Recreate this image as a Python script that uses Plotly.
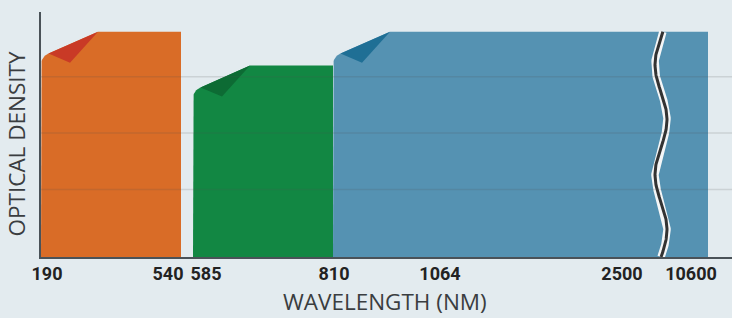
import numpy as np
import plotly.graph_objects as go

# ---------------- data ----------------
wavelength_ticks = [190, 540, 585, 810, 1064, 2500, 10600]
band_start = [190, 585, 810]
band_end = [540, 810, 10600]
band_od = [3.8, 3.2, 3.8]

# ---------------- styling / schematic (broken) axis ----------------
W, H = 732, 318
ML, MR, MT, MB = 41, 0, 12, 61
PW, PH = W - ML - MR, H - MT - MB
Y0, Y1 = -0.2, 4.15
PPU = PH / (Y1 - Y0)  # pixels per OD unit

# schematic position (px from plot left) of band edges on the broken axis
edge_pos = {190: 0, 540: 140, 585: 152, 810: 292, 10600: 667}
# schematic position of the tick labels (nudged apart where edges are close)
label_pos = {190: 6, 540: 127, 585: 165, 810: 293, 1064: 399, 2500: 581, 10600: 650}
break_pos = 620

body_colors = ["#d96c27", "#128743", "#5592b2"]
flap_colors = ["#c93a26", "#0d6b34", "#1f6f95"]
BG = "#e3ebef"
TITLE_FONT = dict(family="Open Sans", size=22.5, color="#3a3d40", weight=400)

fig = go.Figure()


def dy(px):
    return px / PPU


for i, (s, e, od) in enumerate(zip(band_start, band_end, band_od)):
    x0 = edge_pos[s]
    x1 = edge_pos[e]
    # rounded curled corner
    r = 12
    cx, cy = x0 + r, od - dy(33)
    ang = np.linspace(np.pi, np.deg2rad(112), 12)
    arc_x = list(cx + r * np.cos(ang))
    arc_y = list(cy + dy(r) * np.sin(ang))
    xs = [x0, x0] + arc_x + [x0 + 57, x1, x1, x0]
    ys = [Y0, od - dy(33)] + arc_y + [od, od, Y0, Y0]
    fig.add_trace(go.Scatter(x=xs, y=ys, fill="toself", fillcolor=body_colors[i],
                             mode="lines", line=dict(width=0), hoverinfo="skip",
                             showlegend=False))
    fx = [arc_x[-1], x0 + 57, x0 + 29, arc_x[-1]]
    fy = [arc_y[-1], od, od - dy(31), arc_y[-1]]
    fig.add_trace(go.Scatter(x=fx, y=fy, fill="toself", fillcolor=flap_colors[i],
                             mode="lines", line=dict(width=0), hoverinfo="skip",
                             showlegend=False))

# axis-break wave marker on the last band
top = band_od[-1]
ypx = np.linspace(0, (top - Y0) * PPU, 200)  # px from the top of the band
wx = break_pos - 6 * np.cos(2 * np.pi * (ypx - 33) / 110)
wy = top - ypx / PPU
fig.add_trace(go.Scatter(x=wx, y=wy, mode="lines", line=dict(color="#f4f6f7", width=7.5),
                         hoverinfo="skip", showlegend=False))
fig.add_trace(go.Scatter(x=wx, y=wy, mode="lines", line=dict(color="#333333", width=3),
                         hoverinfo="skip", showlegend=False))

# gridlines drawn above the bands
for g in [1, 2, 3]:
    fig.add_shape(type="line", xref="paper", yref="y", x0=0, x1=1, y0=g, y1=g,
                  line=dict(color="rgba(80,80,80,0.16)", width=1.5), layer="above")

# axis titles (placed as in the reference)
fig.add_annotation(text="OPTICAL DENSITY", textangle=-90, xref="paper", yref="paper",
                   x=(16 - ML) / PW, y=(MT + PH - 144.5) / PH, xanchor="center",
                   yanchor="middle", showarrow=False, font=TITLE_FONT)
fig.add_annotation(text="WAVELENGTH (NM)", xref="paper", yref="paper",
                   x=(385 - ML) / PW, y=(MT + PH - 301) / PH, xanchor="center",
                   yanchor="middle", showarrow=False, font=TITLE_FONT)

fig.update_layout(
    width=W, height=H,
    margin=dict(l=ML, r=MR, t=MT, b=MB, autoexpand=False),
    paper_bgcolor=BG, plot_bgcolor=BG,
    xaxis=dict(range=[0, PW], tickvals=[label_pos[w] for w in wavelength_ticks],
               ticktext=[str(w) for w in wavelength_ticks],
               showgrid=False, zeroline=False, automargin=False,
               tickangle=0, ticklen=0, ticks="outside", tickcolor=BG,
               showline=True, linecolor="#4a5258", linewidth=1.5,
               tickfont=dict(family="Roboto", size=18, color="#222222", weight="bold"),
               fixedrange=True),
    yaxis=dict(range=[Y0, Y1], showticklabels=False, showgrid=False, zeroline=False,
               automargin=False, ticks="",
               showline=True, linecolor="#4a5258", linewidth=1.5,
               fixedrange=True),
)

fig.write_html("out.html", config={"displayModeBar": False},
               post_script="document.body.style.margin='0';document.body.style.overflow='hidden';")
